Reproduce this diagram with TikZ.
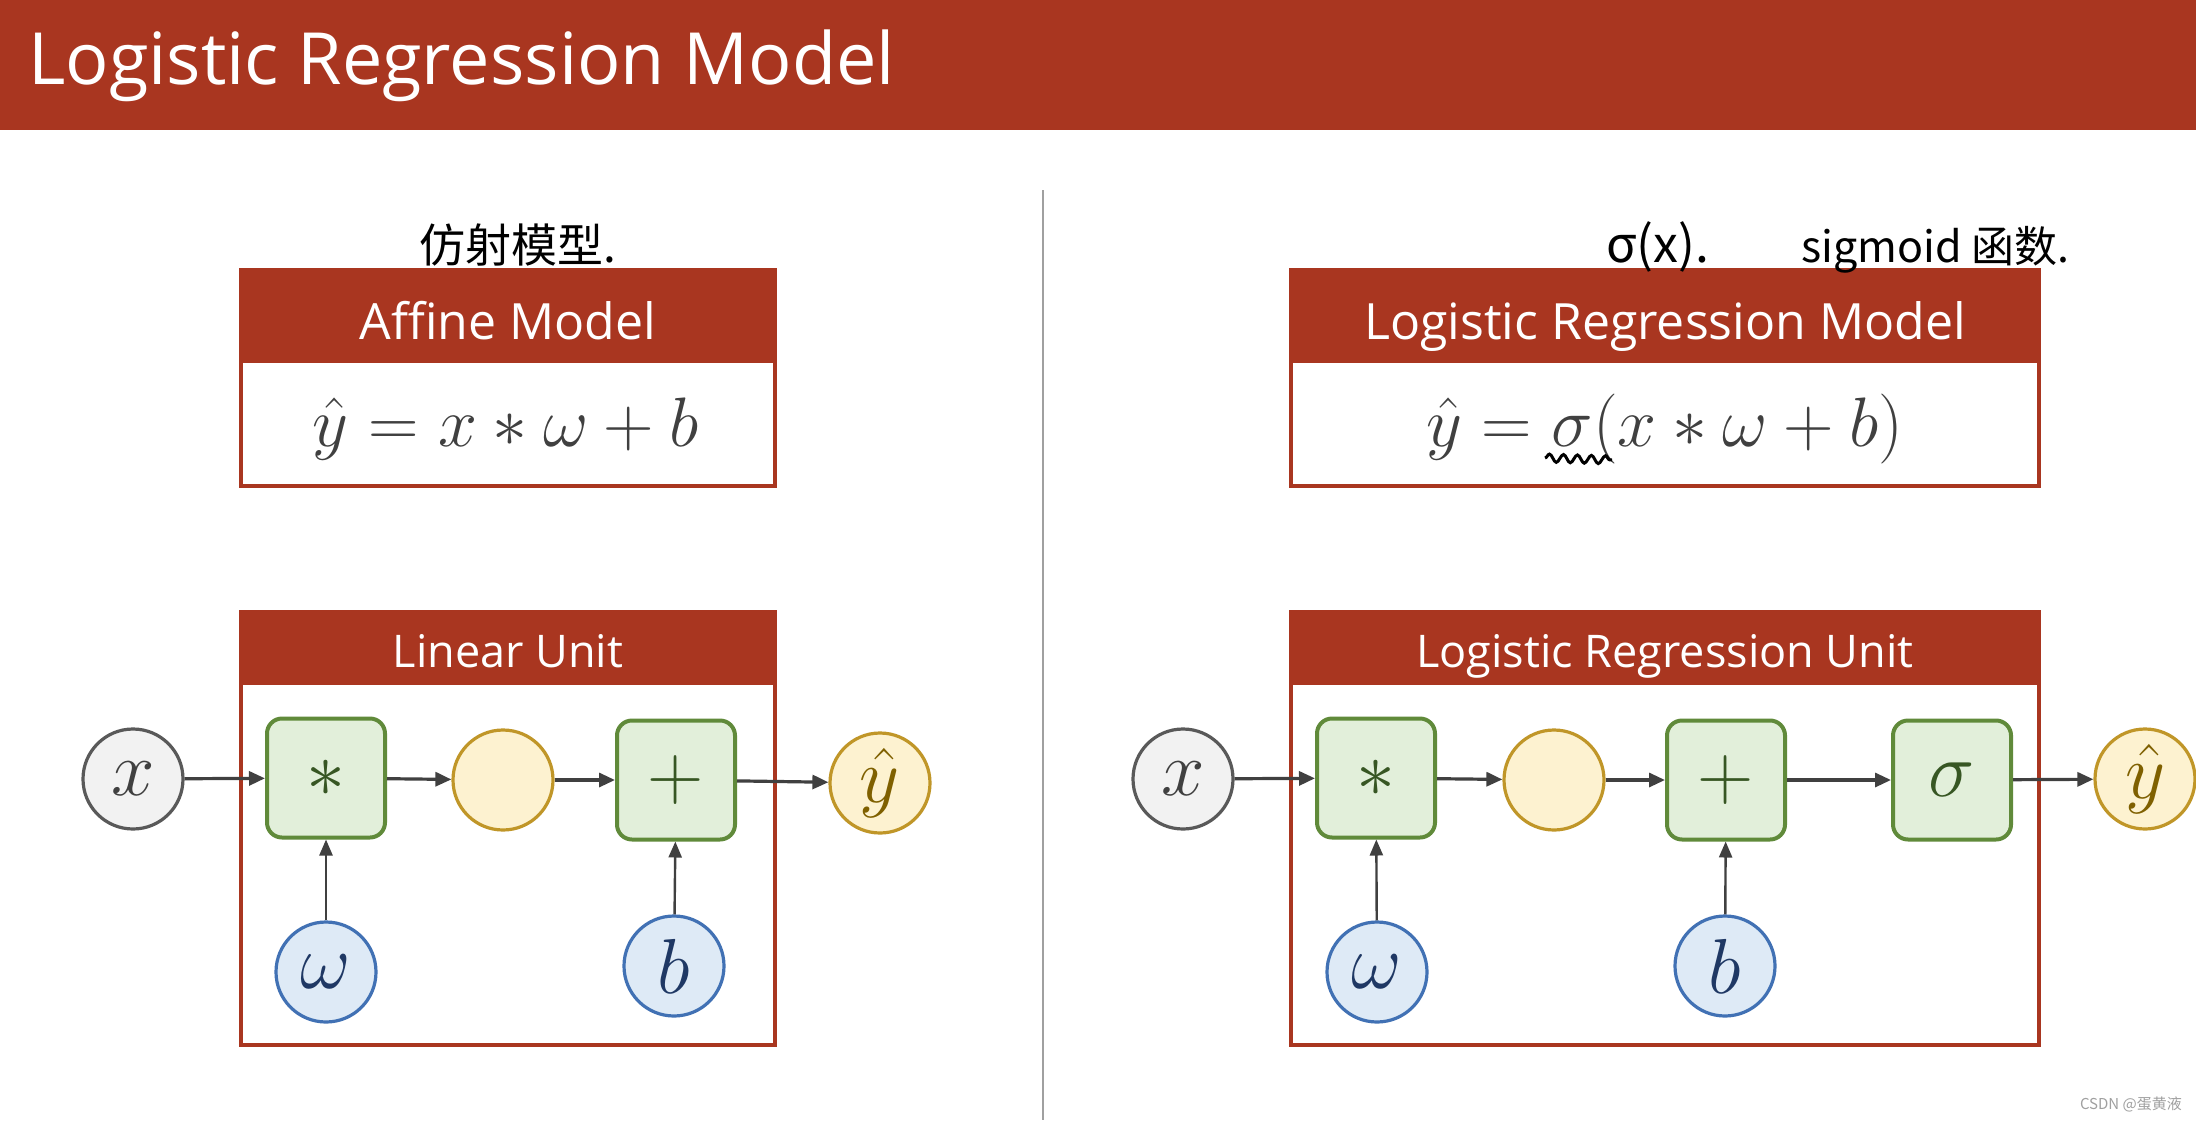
\RequirePackage{fix-cm}
\documentclass[tikz,border=0pt]{standalone}
\usepackage{fontspec}
\setmainfont{Open Sans}
\newfontfamily\cjk{Noto Sans CJK SC}
\usetikzlibrary{arrows.meta,decorations.pathmorphing}

\definecolor{hred}{RGB}{169,54,32}
\definecolor{grayf}{RGB}{242,242,242}
\definecolor{grayd}{RGB}{89,89,89}
\definecolor{xtext}{RGB}{64,64,64}
\definecolor{greenf}{RGB}{226,239,218}
\definecolor{greend}{RGB}{96,138,58}
\definecolor{greent}{RGB}{55,86,35}
\definecolor{yellf}{RGB}{253,242,208}
\definecolor{yelld}{RGB}{192,150,40}
\definecolor{ytext}{RGB}{127,96,0}
\definecolor{bluef}{RGB}{222,234,246}
\definecolor{blued}{RGB}{65,113,180}
\definecolor{bluet}{RGB}{31,56,100}
\definecolor{arrowc}{RGB}{64,64,64}
\definecolor{sepc}{RGB}{160,160,160}
\definecolor{formc}{RGB}{64,64,64}

\tikzset{
  arr/.style={draw=arrowc, line width=3.2pt, -{Triangle[length=16pt,width=14pt]}},
  varr/.style={draw=arrowc, line width=2.4pt, -{Triangle[length=16pt,width=13pt]}},
  mlbl/.style={font=\fontsize{78}{82}\selectfont},
  gcirc/.style={circle, draw=grayd, fill=grayf, line width=3.2pt, minimum size=100pt, inner sep=0pt, text=xtext, mlbl},
  ycirc/.style={circle, draw=yelld, fill=yellf, line width=3.2pt, minimum size=100pt, inner sep=0pt, text=ytext, mlbl},
  bcirc/.style={circle, draw=blued, fill=bluef, line width=3.2pt, minimum size=100pt, inner sep=0pt, text=bluet, mlbl},
  gbox/.style={rectangle, rounded corners=15pt, draw=greend, fill=greenf, line width=4pt, minimum width=118pt, minimum height=119pt, inner sep=0pt, text=greent, mlbl},
  frame/.style={draw=hred, line width=3.5pt, fill=white},
  headtxt/.style={text=white, anchor=base, inner sep=0pt},
  formula/.style={text=formc, anchor=base, inner sep=0pt, font=\fontsize{70}{74}\selectfont},
  hand/.style={text=black, inner sep=0pt, anchor=base west, font=\cjk\fontsize{46}{50}\selectfont},
}

\begin{document}
\begin{tikzpicture}[x=1pt,y=-1pt]
\useasboundingbox (0,0) rectangle (2196,1122);
\fill[white] (0,0) rectangle (2196,1122);

% header
\fill[hred] (0,0) rectangle (2196,130);
\node[text=white, anchor=base west, inner sep=0pt, font=\fontsize{72}{80}\selectfont] (title) at (28,84) {Logistic Regression Model};

% separator
\draw[sepc, line width=1.5pt] (1043,190) -- (1043,1120);

% ---------- top boxes ----------
\draw[frame] (241,270) rectangle (775,486);
\fill[hred] (241,270) rectangle (775,363);
\node[headtxt, font=\fontsize{50}{56}\selectfont] (afft) at (508,339) {Affine Model};
\node[formula] (afff) at (506,446) {$\hat{y} = x * \omega + b$};

\draw[frame] (1291,270) rectangle (2039,486);
\fill[hred] (1291,270) rectangle (2039,363);
\node[headtxt, font=\fontsize{50}{56}\selectfont] (lrmt) at (1665,339) {Logistic Regression Model};
\node[formula] (lrmf) at (1665,446) {$\hat{y} = \sigma(x * \omega + b)$};

% handwritten notes
\node[hand] (note1) at (419,262) {仿射模型.};
\node[hand, font=\cjk\fontsize{50}{54}\selectfont] (note2) at (1606,262) {σ(x).};
\node[hand, font=\cjk\fontsize{43}{48}\selectfont] (note3) at (1801,262) {sigmoid 函数.};
\draw[black, line width=3pt, decorate, decoration={snake, amplitude=4pt, segment length=14pt}] (1545,458) -- (1612,460);

% ---------- unit boxes ----------
\draw[frame] (241,612) rectangle (775,1045);
\fill[hred] (241,612) rectangle (775,685);
\node[headtxt, font=\fontsize{45}{50}\selectfont] (lut) at (508,667) {Linear Unit};

\draw[frame] (1291,612) rectangle (2039,1045);
\fill[hred] (1291,612) rectangle (2039,685);
\node[headtxt, font=\fontsize{45}{50}\selectfont] (lrut) at (1665,667) {Logistic Regression Unit};

% left unit nodes
\node[gcirc] (x1) at (133,779) {$x$};
\node[gbox] (m1) at (326,778) {$\ast$};
\node[ycirc] (h1) at (503,780) {};
\node[gbox] (p1) at (676,780) {$\mathbf{+}$};
\node[ycirc] (y1) at (880,783) {$\hat{y}$};
\node[bcirc] (w1) at (326,972) {$\omega$};
\node[bcirc] (b1) at (674,966) {$b$};

\draw[arr] (x1) -- (m1);
\draw[arr] (m1) -- (h1);
\draw[arr] (h1) -- (p1);
\draw[arr] (p1) -- (y1);
\draw[varr] (w1) -- (m1);
\draw[varr] (b1) -- (p1);

% right unit nodes
\node[gcirc] (x2) at (1183,779) {$x$};
\node[gbox] (m2) at (1376,778) {$\ast$};
\node[ycirc] (h2) at (1554,780) {};
\node[gbox] (p2) at (1726,780) {$\mathbf{+}$};
\node[gbox] (s2) at (1952,780) {$\sigma$};
\node[ycirc] (y2) at (2145,779) {$\hat{y}$};
\node[bcirc] (w2) at (1377,972) {$\omega$};
\node[bcirc] (b2) at (1725,966) {$b$};

\draw[arr] (x2) -- (m2);
\draw[arr] (m2) -- (h2);
\draw[arr] (h2) -- (p2);
\draw[arr] (p2) -- (s2);
\draw[arr] (s2) -- (y2);
\draw[varr] (w2) -- (m2);
\draw[varr] (b2) -- (p2);

% watermark
\node[anchor=east, inner sep=0pt, text=sepc, font=\cjk\fontsize{15}{18}\selectfont] (wm) at (2182,1104) {CSDN @蛋黄液};
\end{tikzpicture}
\end{document}
